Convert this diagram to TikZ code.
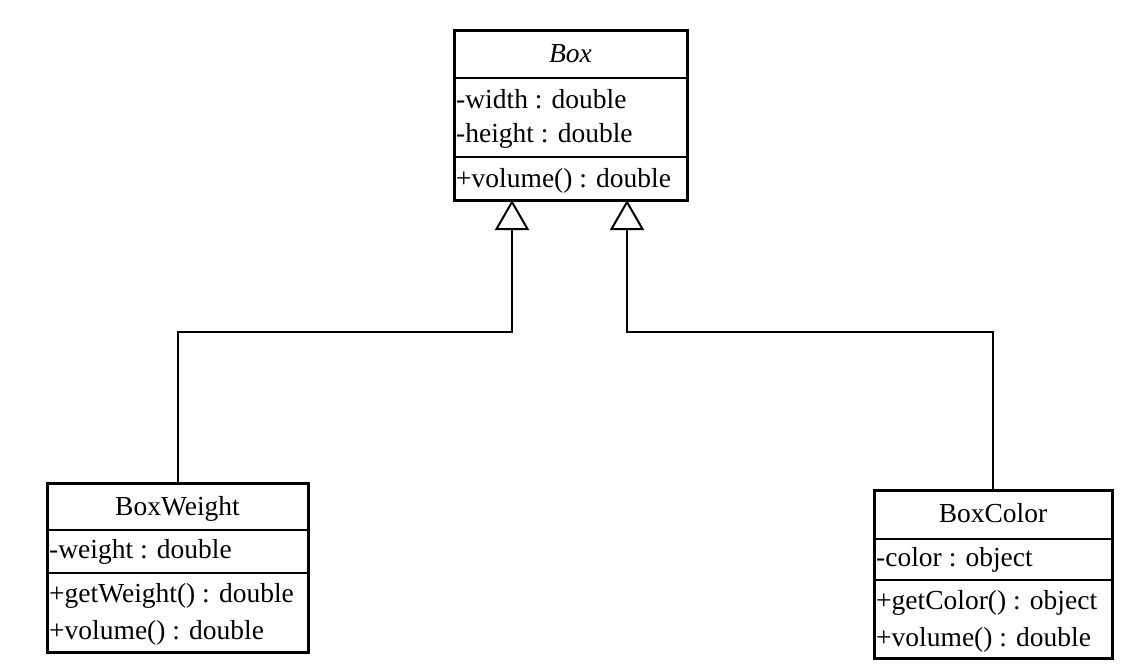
\documentclass[tikz,border=0pt]{standalone}
\usepackage{fontspec}
\setmainfont{Liberation Serif}
\usetikzlibrary{arrows.meta}
\begin{document}
\begin{tikzpicture}[x=1pt,y=-1pt,
  cls/.style={draw,line width=3pt,inner sep=0pt,outer sep=0pt},
  sep/.style={line width=2.5pt},
  txt/.style={anchor=base west,inner sep=0pt,font=\fontsize{27.5}{32}\selectfont},
  ttl/.style={anchor=base,inner sep=0pt,font=\fontsize{27.5}{32}\selectfont},
  inh/.style={line width=2pt,-{Triangle[open,length=30pt,width=34pt,line width=2pt]}}]
\useasboundingbox (0,0) rectangle (1121,670);
% Box
\node[cls,minimum width=233pt,minimum height=170pt] (box) at (570.5,115) {};
\draw[sep] (454,78) -- (687,78) (454,157) -- (687,157);
\node[ttl,font=\fontsize{27.5}{32}\selectfont\itshape] (boxt) at (570.5,62) {Box};
\node[txt] (boxa1) at (456,108) {-width : double};
\node[txt] (boxa2) at (456,142) {-height : double};
\node[txt] (boxm1) at (456,187) {+volume() : double};
% BoxWeight
\node[cls,minimum width=261pt,minimum height=169pt] (bw) at (177.5,567.5) {};
\draw[sep] (47,530) -- (308,530) (47,573) -- (308,573);
\node[ttl] (bwt) at (177.5,515) {BoxWeight};
\node[txt] (bwa1) at (49,558) {-weight : double};
\node[txt] (bwm1) at (49,602) {+getWeight() : double};
\node[txt] (bwm2) at (49,639) {+volume() : double};
% BoxColor
\node[cls,minimum width=238pt,minimum height=168pt] (bc) at (993,574) {};
\draw[sep] (874,539) -- (1112,539) (874,580) -- (1112,580);
\node[ttl] (bct) at (993,522) {BoxColor};
\node[txt] (bca1) at (876,566) {-color : object};
\node[txt] (bcm1) at (876,609) {+getColor() : object};
\node[txt] (bcm2) at (876,646) {+volume() : double};
% connectors
\coordinate (j1) at (512,332);
\coordinate (t1) at (512,200);
\coordinate (j2) at (627,332);
\coordinate (t2) at (627,200);
\draw[inh] (bw.north) |- (j1) -- (t1);
\draw[inh] (bc.north) |- (j2) -- (t2);
\end{tikzpicture}
\end{document}
